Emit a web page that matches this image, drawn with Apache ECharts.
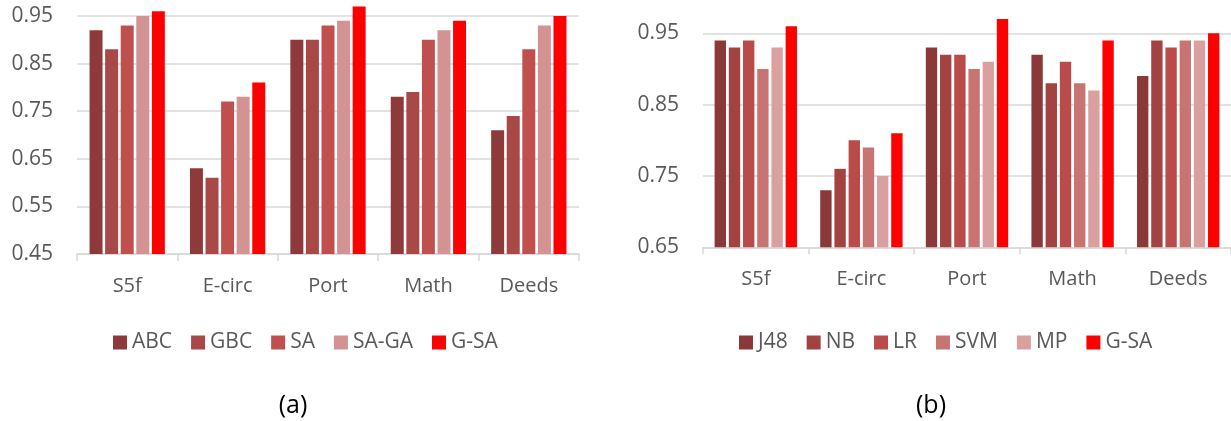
<!DOCTYPE html>
<html>
<head>
<meta charset="utf-8">
<script src="https://cdn.jsdelivr.net/npm/echarts@6/dist/echarts.min.js"></script>
<style>
html, body { margin: 0; padding: 0; background: #fff; }
#chart { width: 1231px; height: 421px; }
</style>
</head>
<body>
<div id="chart"></div>
<script>
//数据集
const categories = ['S5f', 'E-circ', 'Port', 'Math', 'Deeds'];

//(a) 图
const namesA = ['ABC', 'GBC', 'SA', 'SA-GA', 'G-SA'];
const colorsA = ['#8E3A3A', '#A84847', '#C0504D', '#D49393', '#FF0000'];
const abc = [0.92, 0.63, 0.90, 0.78, 0.71];
const gbc = [0.88, 0.61, 0.90, 0.79, 0.74];
const sa = [0.93, 0.77, 0.93, 0.90, 0.88];
const saga = [0.95, 0.78, 0.94, 0.92, 0.93];
const gsaA = [0.96, 0.81, 0.97, 0.94, 0.95];
const valuesA = [abc, gbc, sa, saga, gsaA];

//(b) 图
const namesB = ['J48', 'NB', 'LR', 'SVM', 'MP', 'G-SA'];
const colorsB = ['#8B3838', '#A34341', '#B94C4A', '#C87472', '#D9A09F', '#FF0000'];
const j48 = [0.94, 0.73, 0.93, 0.92, 0.89];
const nb = [0.93, 0.76, 0.92, 0.88, 0.94];
const lr = [0.94, 0.80, 0.92, 0.91, 0.93];
const svm = [0.90, 0.79, 0.90, 0.88, 0.94];
const mp = [0.93, 0.75, 0.91, 0.87, 0.94];
const gsaB = [0.96, 0.81, 0.97, 0.94, 0.95];
const valuesB = [j48, nb, lr, svm, mp, gsaB];

const font = '"Open Sans", "Liberation Sans", sans-serif';
const grey = '#595959';
const gridColor = '#D9D9D9';

let chart = echarts.init(document.getElementById('chart'));

//y轴：每0.05一格，只显示奇数格；顶部留出0.975给超出0.95的柱子
function yAxis(gridIndex, min) {
    return {
        type: 'value',
        gridIndex: gridIndex,
        min: min,
        max: 0.975,
        interval: 0.05,
        axisLine: { show: false },
        axisTick: { show: false },
        axisLabel: {
            color: grey,
            fontFamily: font,
            fontSize: 21,
            margin: 24,
            formatter: function (v) {
                let n = Math.round(v * 1000);
                return n % 100 === 50 ? v.toFixed(2) : '';
            }
        },
        splitLine: { lineStyle: { color: [gridColor, 'rgba(0,0,0,0)'], width: 1.5 } }
    };
}

function xAxis(gridIndex) {
    return {
        type: 'category',
        gridIndex: gridIndex,
        data: categories,
        axisLine: { lineStyle: { color: gridColor, width: 1.5 } },
        axisTick: { show: true, length: 7, lineStyle: { color: gridColor, width: 1.5 } },
        axisLabel: { color: grey, fontFamily: font, fontSize: 20, margin: 22 }
    };
}

function buildSeries(names, values, colors, axisIndex, catGap, gap) {
    return names.map(function (name, i) {
        return {
            name: name,
            type: 'bar',
            xAxisIndex: axisIndex,
            yAxisIndex: axisIndex,
            data: values[i],
            barCategoryGap: catGap,
            barGap: gap,
            itemStyle: { color: colors[i] }
        };
    });
}

function legend(names, left) {
    return {
        data: names,
        left: left,
        top: 327,
        itemWidth: 14,
        itemHeight: 14,
        itemGap: 19,
        icon: 'rect',
        textStyle: { color: grey, fontFamily: font, fontSize: 21, padding: [0, 0, 0, 0] }
    };
}

function caption(text, x) {
    return {
        text: text,
        left: x,
        top: 388,
        textAlign: 'center',
        textStyle: { color: '#000', fontFamily: font, fontSize: 25, fontWeight: 'normal' }
    };
}

let option = {
    animation: false,
    color: colorsA.concat(colorsB),
    grid: [
        { left: 77, top: 4, width: 502, height: 250 },
        { left: 703, top: 15.5, width: 528, height: 231.8 }
    ],
    xAxis: [xAxis(0), xAxis(1)],
    yAxis: [yAxis(0, 0.45), yAxis(1, 0.65)],
    legend: [legend(namesA, 108), legend(namesB, 734)],
    title: [caption('(a)', 288), caption('(b)', 926)],
    series: buildSeries(namesA, valuesA, colorsA, 0, '25%', '20%')
        .concat(buildSeries(namesB, valuesB, colorsB, 1, '22%', '25%'))
};

chart.setOption(option);
</script>
</body>
</html>
